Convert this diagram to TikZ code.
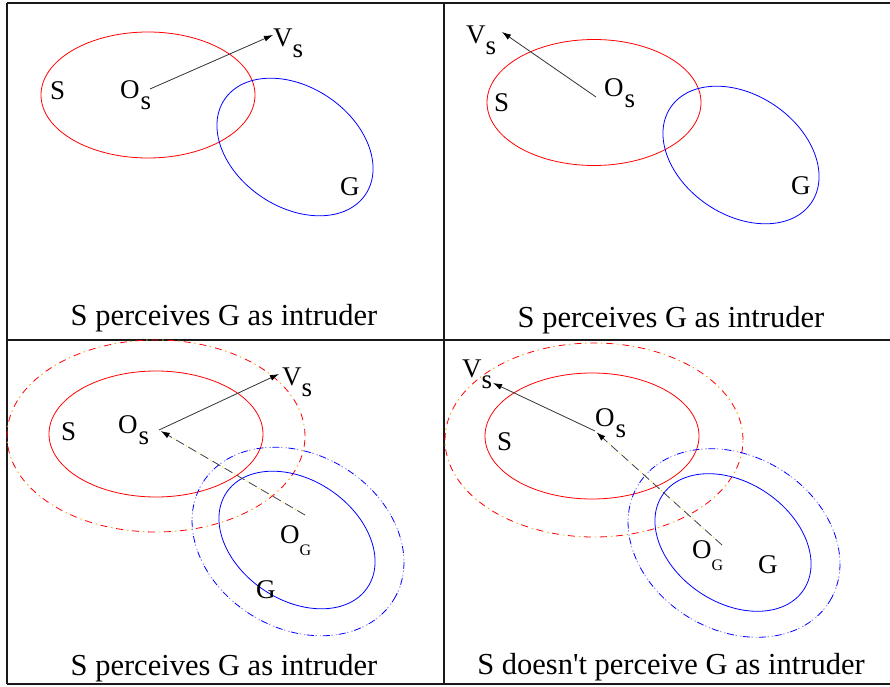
\documentclass[tikz,border=0pt]{standalone}
\usepackage{fontspec}
\setmainfont{Liberation Serif}
\usetikzlibrary{arrows.meta}
\newcommand\lowsub[1]{\raisebox{-11pt}{#1}}
\newcommand\lowsubG[1]{\raisebox{-12pt}{\fontsize{16}{16}\selectfont #1}}
\begin{document}
\begin{tikzpicture}[x=1pt,y=1pt,
  frame/.style={line width=1.6pt,black!90},
  lab/.style={anchor=base west,inner sep=0pt,font=\fontsize{27}{30}\selectfont},
  captext/.style={anchor=base,inner sep=0pt,font=\fontsize{30.5}{34}\selectfont},
  sreg/.style={draw=red,line width=0.8pt},
  greg/.style={draw=blue,line width=0.8pt},
  sout/.style={draw=red,line width=0.8pt,dash pattern=on 7pt off 9pt,
     postaction={draw=orange!70!yellow,line width=0.9pt,dash pattern=on 1.5pt off 14.5pt,dash phase=5pt}},
  gout/.style={draw=blue,line width=0.8pt,dash pattern=on 7pt off 9pt,
     postaction={draw=blue!45,line width=0.9pt,dash pattern=on 1.5pt off 3pt on 1.5pt off 10pt,dash phase=7.5pt}},
  vec/.style={draw=black!80,line width=0.8pt,-{Latex[length=9pt,width=6pt,black]}},
  dd/.style={draw=black!75,line width=0.8pt,dash pattern=on 9pt off 5pt,-{Latex[length=9pt,width=6pt,black,sep=2pt]},
     postaction={draw=yellow!80!orange,line width=0.9pt,dash pattern=on 1.2pt off 12.8pt,dash phase=3.4pt,arrows=-,shorten >=11pt}}
]
\useasboundingbox (0,0) rectangle (890,686);
% frame
\draw[frame] (7,683) -- (890,683);
\draw[frame] (7,346) -- (890,346);
\draw[frame] (7,2) -- (890,2);
\draw[frame] (7,683) -- (7,2);
\draw[frame] (444,683) -- (444,2);

% ---------- panel 1 ----------
\draw[sreg] (148,591) ellipse [x radius=107, y radius=63];
\draw[greg, rotate around={-34:(295,539)}] (295,539) ellipse [x radius=85, y radius=60];
\node[lab] (s1) at (50,586) {S};
\node[lab] (os1) at (120,587) {O\kern1pt\lowsub{s}};
\node[lab] (vs1) at (273,639) {V\lowsub{s}};
\node[lab] (g1) at (340,490) {G};
\coordinate (o1) at (150,597);
\coordinate (v1) at (273,651);
\draw[vec] (o1) -- (v1);
\node[captext] (cap1) at (224,361) {S perceives G as intruder};

% ---------- panel 2 ----------
\draw[sreg] (594,583.5) ellipse [x radius=107, y radius=63];
\draw[greg, rotate around={-34:(741,531)}] (741,531) ellipse [x radius=85, y radius=60];
\node[lab] (s2) at (494,574) {S};
\node[lab] (os2) at (604,589) {O\kern1pt\lowsub{s}};
\node[lab] (vs2) at (466,642) {V\lowsub{s}};
\node[lab] (g2) at (791,491) {G};
\coordinate (o2) at (596,589);
\coordinate (v2) at (502,654);
\draw[vec] (o2) -- (v2);
\node[captext] (cap2) at (671,359) {S perceives G as intruder};

% ---------- panel 3 ----------
\draw[sout] (156,250) ellipse [x radius=149, y radius=96];
\draw[sreg] (156,252) ellipse [x radius=107, y radius=63];
\draw[gout, rotate around={-31:(298,144.5)}] (298,144.5) ellipse [x radius=112, y radius=87];
\draw[greg, rotate around={-34:(297,146)}] (297,146) ellipse [x radius=85, y radius=60];
\node[lab] (s3) at (61,246) {S};
\node[lab] (os3) at (118,253) {O\kern1pt\lowsub{s}};
\node[lab] (vs3) at (282,301) {V\lowsub{s}};
\node[lab] (og3) at (280,143) {O\lowsubG{G}};
\node[lab] (g3l) at (256,88) {G};
\coordinate (o3) at (159,256);
\coordinate (v3) at (279,312);
\coordinate (g3) at (305,171);
\draw[vec] (o3) -- (v3);
\draw[dd] (g3) -- (o3);
\node[captext] (cap3) at (224,11) {S perceives G as intruder};

% ---------- panel 4 ----------
\draw[sout] (594,246) ellipse [x radius=149, y radius=97];
\draw[sreg] (592,250) ellipse [x radius=107, y radius=63];
\draw[gout, rotate around={-31:(734,143)}] (734,143) ellipse [x radius=112, y radius=87];
\draw[greg, rotate around={-34:(733,143.5)}] (733,143.5) ellipse [x radius=85, y radius=60];
\node[lab] (s4) at (497,236) {S};
\node[lab] (os4) at (595,260) {O\kern1pt\lowsub{s}};
\node[lab] (vs4) at (462,309) {V\lowsub{s}};
\node[lab] (og4) at (692,128) {O\lowsubG{G}};
\node[lab] (g4l) at (758,113) {G};
\coordinate (o4) at (595,255);
\coordinate (v4) at (493,303);
\coordinate (g4) at (722,141);
\draw[vec] (o4) -- (v4);
\draw[dd] (g4) -- (o4);
\node[captext] (cap4) at (671,12) {S doesn\textquotesingle t perceive G as intruder};
\end{tikzpicture}
\end{document}
